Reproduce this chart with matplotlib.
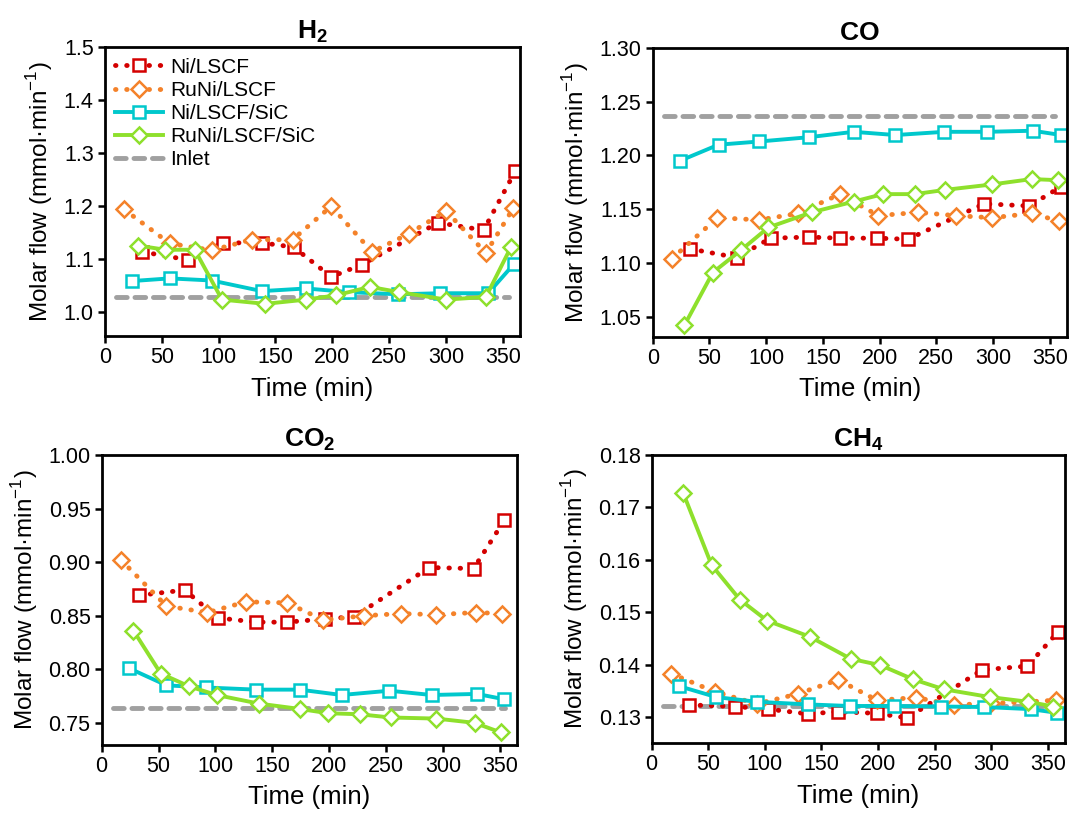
import matplotlib
matplotlib.use("Agg")
import matplotlib.pyplot as plt

plt.rcParams['font.family'] = ['Liberation Sans', 'DejaVu Sans']
plt.rcParams['mathtext.fontset'] = 'custom'
plt.rcParams['mathtext.rm'] = 'Liberation Sans'
plt.rcParams['mathtext.bf'] = 'Liberation Sans:bold'

# ---- H2 ----
h2_ni_t = [33, 73, 104, 138, 166, 199, 226, 293, 333, 361]
h2_ni_v = [1.114, 1.099, 1.131, 1.131, 1.123, 1.067, 1.090, 1.169, 1.155, 1.267]
h2_runi_t = [17, 57, 94, 129, 165, 199, 235, 267, 300, 335, 359]
h2_runi_v = [1.194, 1.130, 1.117, 1.137, 1.137, 1.200, 1.114, 1.148, 1.191, 1.112, 1.196]
h2_nisic_t = [24, 57, 94, 138, 177, 215, 258, 295, 337, 360]
h2_nisic_v = [1.059, 1.064, 1.060, 1.040, 1.045, 1.038, 1.034, 1.036, 1.036, 1.092]
h2_runisic_t = [29, 53, 79, 103, 141, 177, 203, 233, 259, 300, 335, 357]
h2_runisic_v = [1.126, 1.118, 1.118, 1.024, 1.016, 1.024, 1.032, 1.048, 1.038, 1.024, 1.029, 1.123]
h2_inlet = 1.029

# ---- CO ----
co_ni_t = [33, 74, 104, 138, 165, 198, 225, 292, 332, 360]
co_ni_v = [1.113, 1.105, 1.123, 1.124, 1.123, 1.123, 1.122, 1.155, 1.153, 1.171]
co_runi_t = [17, 57, 94, 128, 165, 199, 234, 267, 299, 334, 358]
co_runi_v = [1.104, 1.142, 1.140, 1.146, 1.164, 1.144, 1.147, 1.144, 1.142, 1.146, 1.139]
co_nisic_t = [24, 58, 94, 138, 177, 214, 257, 295, 335, 360]
co_nisic_v = [1.195, 1.210, 1.213, 1.217, 1.222, 1.219, 1.222, 1.222, 1.223, 1.219]
co_runisic_t = [28, 53, 78, 102, 140, 177, 203, 231, 258, 299, 334, 357]
co_runisic_v = [1.042, 1.091, 1.112, 1.133, 1.147, 1.157, 1.164, 1.164, 1.168, 1.173, 1.178, 1.177]
co_inlet = 1.237

# ---- CO2 ----
co2_ni_t = [33, 73, 102, 136, 163, 196, 222, 288, 327, 354]
co2_ni_v = [0.869, 0.874, 0.848, 0.844, 0.844, 0.847, 0.849, 0.895, 0.894, 0.939]
co2_runi_t = [17, 57, 93, 127, 163, 195, 231, 263, 294, 329, 352]
co2_runi_v = [0.902, 0.859, 0.853, 0.863, 0.862, 0.846, 0.850, 0.852, 0.851, 0.853, 0.852]
co2_nisic_t = [24, 57, 92, 136, 174, 211, 253, 290, 330, 354]
co2_nisic_v = [0.801, 0.785, 0.783, 0.781, 0.781, 0.776, 0.780, 0.776, 0.777, 0.772]
co2_runisic_t = [28, 52, 77, 101, 138, 174, 199, 227, 254, 294, 328, 351]
co2_runisic_v = [0.836, 0.796, 0.784, 0.776, 0.768, 0.763, 0.759, 0.758, 0.755, 0.754, 0.750, 0.741]
co2_inlet = 0.764

# ---- CH4 ----
ch4_ni_t = [33, 74, 103, 138, 165, 199, 226, 292, 332, 359]
ch4_ni_v = [0.1323, 0.1320, 0.1315, 0.1306, 0.1310, 0.1307, 0.1298, 0.1390, 0.1397, 0.1462]
ch4_runi_t = [17, 56, 93, 129, 165, 199, 234, 267, 300, 333, 357]
ch4_runi_v = [0.1383, 0.1348, 0.1325, 0.1344, 0.1371, 0.1332, 0.1337, 0.1323, 0.1326, 0.1329, 0.1332]
ch4_nisic_t = [24, 57, 93, 138, 175, 214, 256, 294, 335, 358]
ch4_nisic_v = [0.1359, 0.1338, 0.1329, 0.1324, 0.1321, 0.1321, 0.1320, 0.1319, 0.1315, 0.1308]
ch4_runisic_t = [28, 53, 78, 102, 140, 176, 202, 231, 258, 299, 333, 355]
ch4_runisic_v = [0.1727, 0.1590, 0.1524, 0.1484, 0.1453, 0.1411, 0.1399, 0.1372, 0.1353, 0.1338, 0.1329, 0.1320]
ch4_inlet = 0.1321

labels = ['Ni/LSCF', 'RuNi/LSCF', 'Ni/LSCF/SiC', 'RuNi/LSCF/SiC', 'Inlet']
red, orange, cyan, green, grey = '#D40000', '#F4822A', '#00C8CC', '#8EE02C', '#A0A0A0'
dots = (0, (0.1, 2.2))

panels = [
    (r'$\mathbf{H_2}$', h2_ni_t, h2_ni_v, h2_runi_t, h2_runi_v, h2_nisic_t, h2_nisic_v,
     h2_runisic_t, h2_runisic_v, h2_inlet, (0.955, 1.5), [1.0, 1.1, 1.2, 1.3, 1.4, 1.5], '%.1f',
     [0.098, 0.587, 0.388, 0.355]),
    (r'$\mathbf{CO}$', co_ni_t, co_ni_v, co_runi_t, co_runi_v, co_nisic_t, co_nisic_v,
     co_runisic_t, co_runisic_v, co_inlet, (1.031, 1.30), [1.05, 1.10, 1.15, 1.20, 1.25, 1.30], '%.2f',
     [0.610, 0.586, 0.387, 0.355]),
    (r'$\mathbf{CO_2}$', co2_ni_t, co2_ni_v, co2_runi_t, co2_runi_v, co2_nisic_t, co2_nisic_v,
     co2_runisic_t, co2_runisic_v, co2_inlet, (0.7295, 1.0), [0.75, 0.80, 0.85, 0.90, 0.95, 1.00], '%.2f',
     [0.095, 0.085, 0.388, 0.356]),
    (r'$\mathbf{CH_4}$', ch4_ni_t, ch4_ni_v, ch4_runi_t, ch4_runi_v, ch4_nisic_t, ch4_nisic_v,
     ch4_runisic_t, ch4_runisic_v, ch4_inlet, (0.125, 0.18), [0.13, 0.14, 0.15, 0.16, 0.17, 0.18], '%.2f',
     [0.609, 0.087, 0.386, 0.354]),
]

fig = plt.figure(figsize=(10.7, 8.14), dpi=100)

for i, (title, nt, nv, rt, rv, st, sv, gt, gv, inlet, ylim, yt, fmt, pos) in enumerate(panels):
    ax = fig.add_axes(pos)
    ax.plot(nt, nv, color=red, ls=dots, lw=3.5, dash_capstyle='round', marker='s', ms=8.5,
            mfc='white', mec=red, mew=1.8, label=labels[0])
    ax.plot(rt, rv, color=orange, ls=dots, lw=3.5, dash_capstyle='round', marker='D', ms=8.5,
            mfc='white', mec=orange, mew=1.8, label=labels[1])
    ax.plot(st, sv, color=cyan, lw=2.8, marker='s', ms=8.5, mfc='white', mec=cyan, mew=1.8,
            label=labels[2])
    ax.plot(gt, gv, color=green, lw=2.8, marker='D', ms=8.5, mfc='white', mec=green, mew=1.8,
            label=labels[3])
    ax.plot([10, 355], [inlet, inlet], color=grey, lw=3.5, ls=(0, (2.2, 1.6)),
            dash_capstyle='round', label=labels[4], zorder=1)
    ax.set_xlim(0, 365)
    ax.set_ylim(*ylim)
    ax.set_xticks(range(0, 351, 50))
    ax.set_yticks(yt)
    ax.set_yticklabels([fmt % y for y in yt])
    ax.tick_params(direction='out', length=5, width=1.8, labelsize=15.5, pad=3)
    for s in ax.spines.values():
        s.set_linewidth(2)
    ax.set_title(title, fontsize=19, fontweight='bold', pad=6)
    ax.set_xlabel('Time (min)', fontsize=18.5, labelpad=6)
    ax.set_ylabel('Molar flow (mmol·min$^{-1}$)', fontsize=17.5, labelpad=6)
    if i == 0:
        ax.legend(loc='upper left', frameon=False, fontsize=15, handlelength=2.3,
                  handletextpad=0.35, labelspacing=0.2, borderaxespad=0.2,
                  borderpad=0.3)

fig.savefig('out.png', dpi=100)
